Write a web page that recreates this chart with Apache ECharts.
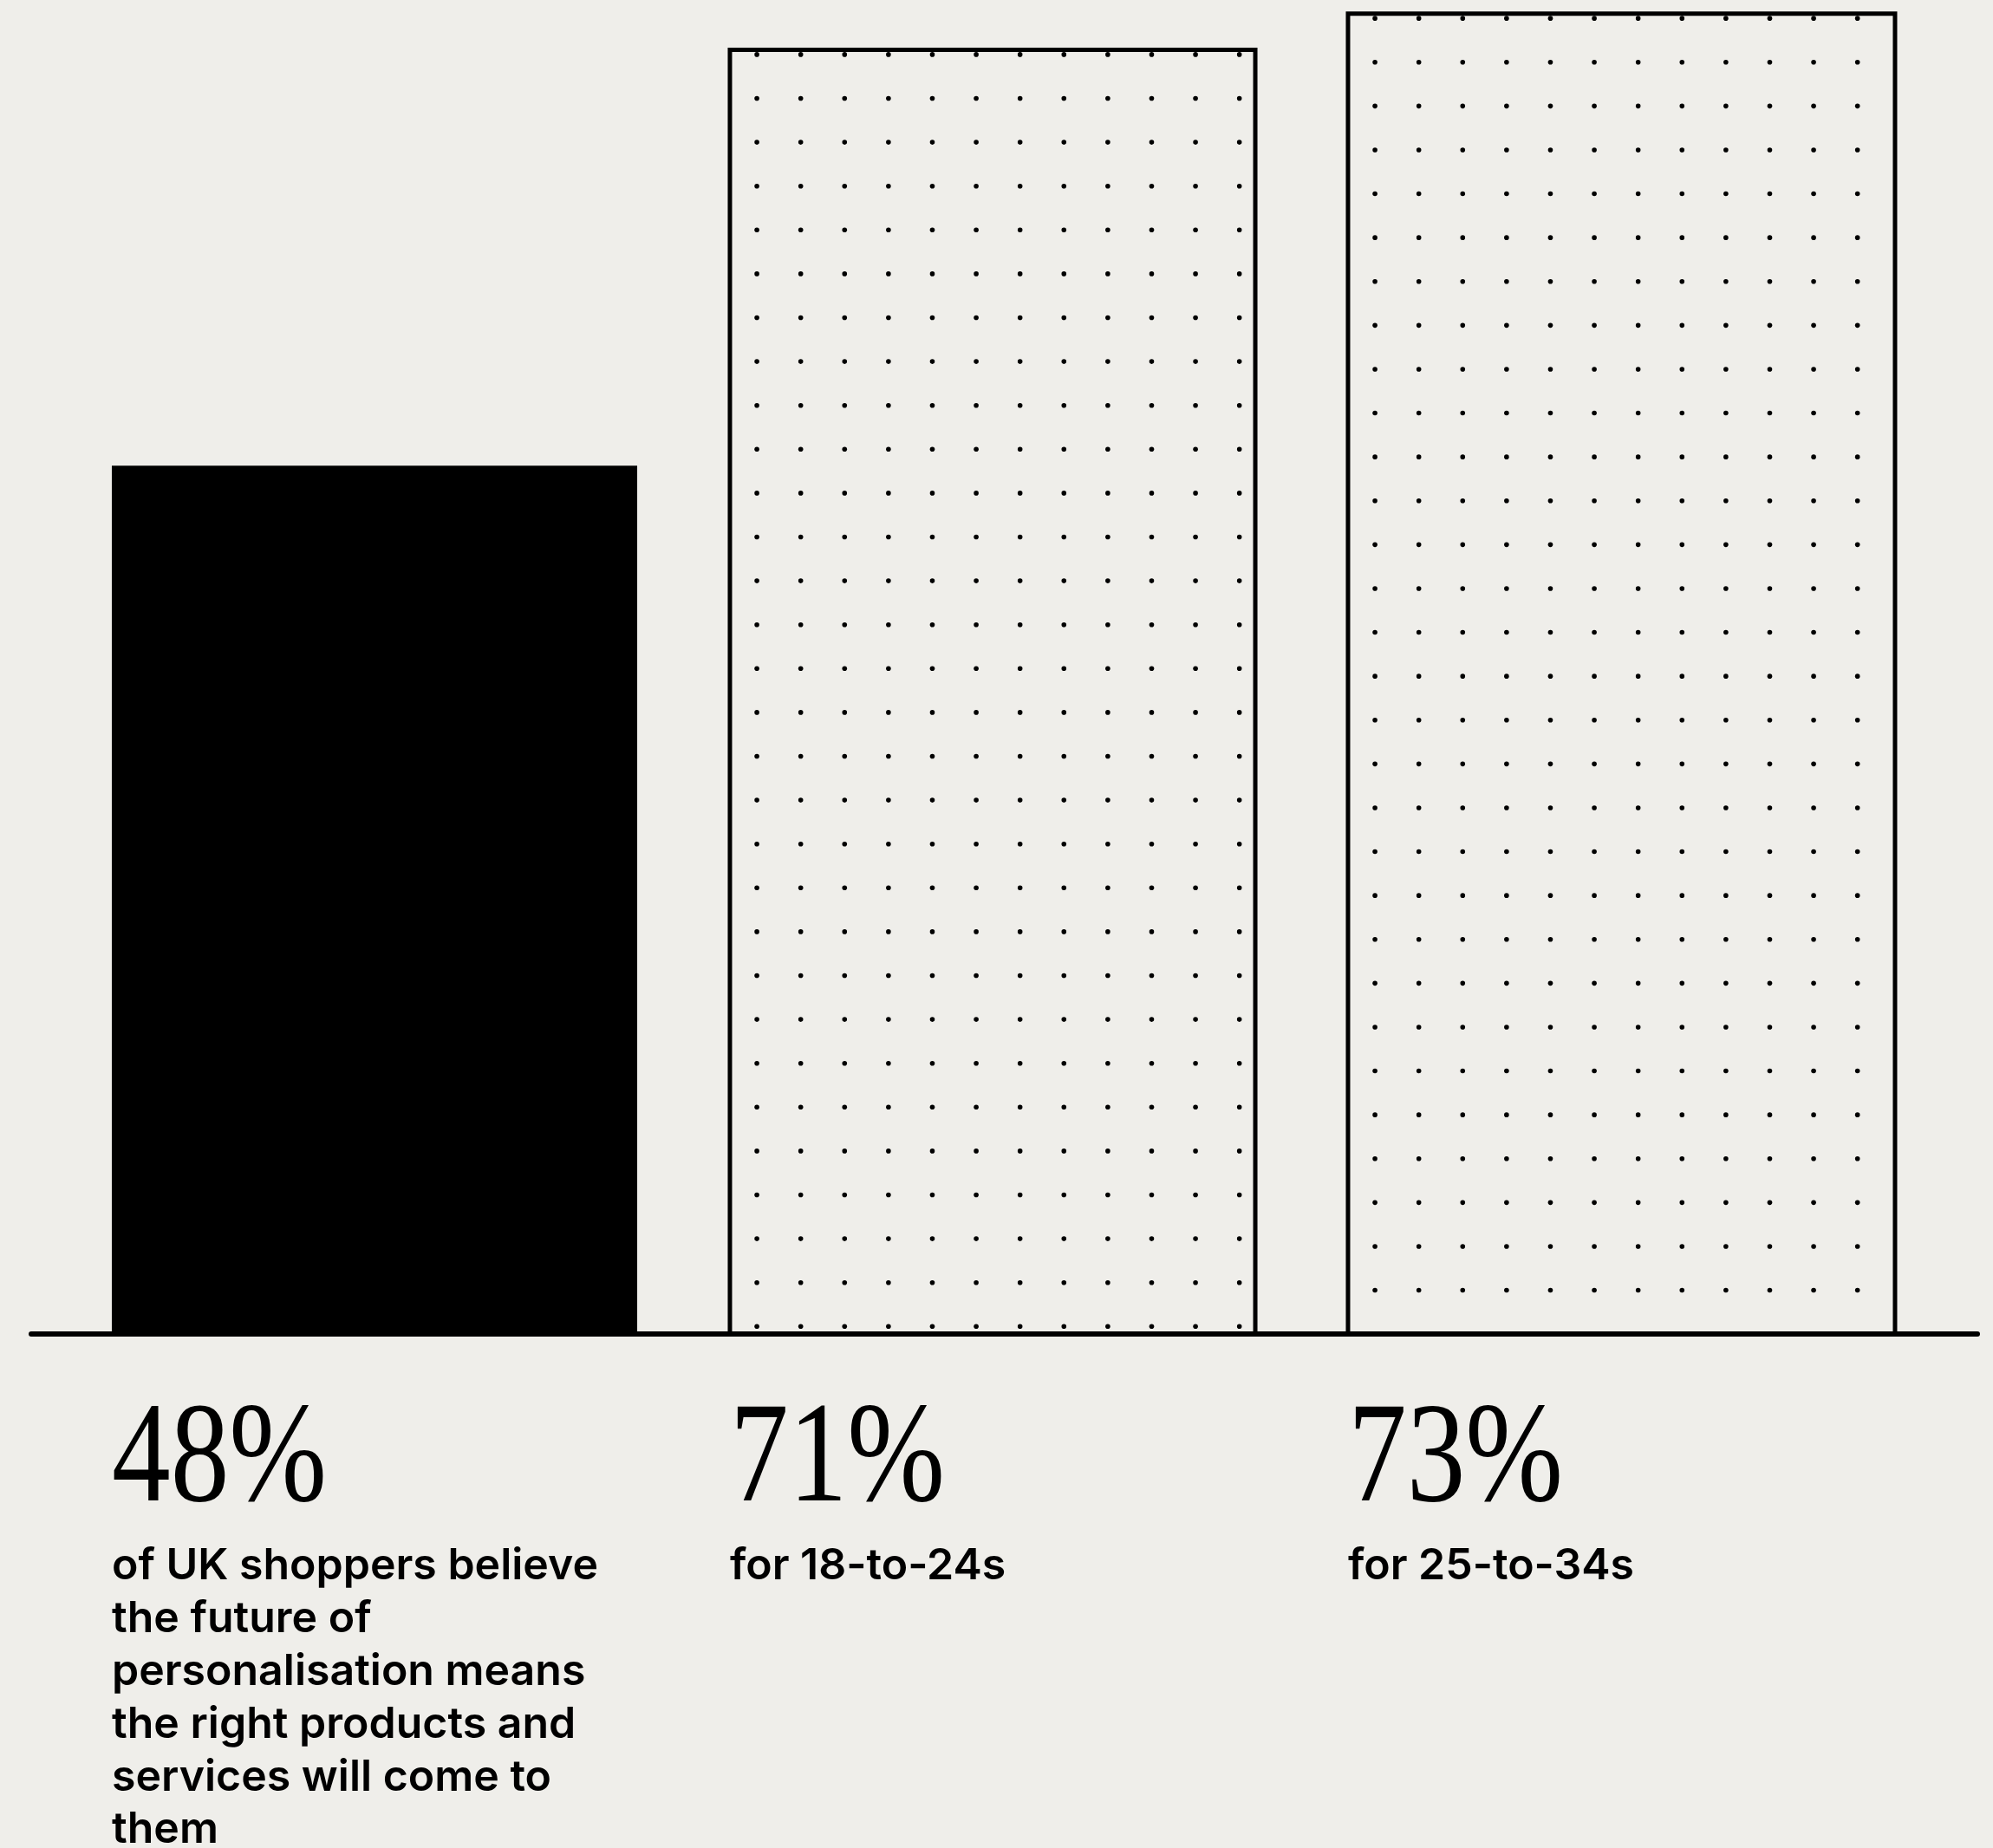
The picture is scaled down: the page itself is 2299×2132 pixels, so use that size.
<!DOCTYPE html>
<html>
<head>
<meta charset="utf-8">
<script src="https://cdn.jsdelivr.net/npm/echarts@6/dist/echarts.min.js"></script>
<style>
  html, body { margin: 0; padding: 0; background: #efeeea; }
  #chart { width: 2299px; height: 2132px; }
</style>
</head>
<body>
<div id="chart"></div>
<script>
// ---- data ----
const categories = ['UK shoppers', '18-to-24s', '25-to-34s'];
const values = [48, 71, 73];
const descriptions = [
  'of UK shoppers believe\nthe future of\npersonalisation means\nthe right products and\nservices will come to\nthem',
  'for 18-to-24s',
  'for 25-to-34s'
];

// ---- style / layout constants ----
const BG = '#efeeea';
const INK = '#000000';
const WIDTH_RATIO = [0.85, 0.85, 0.885];   // bar width as share of band
const FILLED = [true, false, false];
const DOT_STEP = 50.6;
const DOT_OFF_X = 31.1;
const DOT_OFF_Y = 5.5;
const DOT_R = 2.8;
const STROKE_W = 5;
const NUM_FONT = '400 165px "Liberation Serif", "Times New Roman", serif';
const NUM_SCALE_X = 0.82;
const NUM_DY = 149;        // from axis baseline to the middle of the big number
const DESC_FONT = '600 50px Inter, Roboto, "Noto Sans", sans-serif';
const DESC_LH = 60.8;
const DESC_DY = 238;       // from axis baseline to top of description block

function renderItem(params, api) {
  const i = params.dataIndex;
  const v = api.value(1);
  const base = api.coord([i, 0]);
  const topPt = api.coord([i, v]);
  const band = api.size([1, 0])[0];
  const left = base[0] - band * 0.425;
  const w = band * WIDTH_RATIO[i];
  const top = topPt[1];
  const bottom = base[1];
  const children = [];

  if (FILLED[i]) {
    children.push({
      type: 'rect',
      shape: { x: left, y: top, width: w, height: bottom - top },
      style: { fill: INK }
    });
  } else {
    children.push({
      type: 'rect',
      shape: { x: left, y: top, width: w, height: bottom - top },
      style: { fill: 'none', stroke: INK, lineWidth: STROKE_W }
    });
    for (let y = top + DOT_OFF_Y; y <= bottom + 1; y += DOT_STEP) {
      for (let x = left + DOT_OFF_X; x <= left + w - 10; x += DOT_STEP) {
        children.push({
          type: 'circle',
          shape: { cx: x, cy: y, r: DOT_R },
          style: { fill: INK }
        });
      }
    }
  }

  children.push({
    type: 'text',
    x: left,
    y: bottom + NUM_DY,
    scaleX: NUM_SCALE_X,
    style: {
      x: 0, y: 0,
      text: v + '%',
      font: NUM_FONT,
      fill: INK,
      align: 'left',
      verticalAlign: 'middle'
    }
  });
  children.push({
    type: 'text',
    x: left,
    y: bottom + DESC_DY,
    style: {
      x: 0, y: 0,
      text: descriptions[i],
      font: DESC_FONT,
      lineHeight: DESC_LH,
      fill: INK,
      align: 'left',
      verticalAlign: 'top'
    }
  });

  return { type: 'group', children: children };
}

const chart = echarts.init(document.getElementById('chart'), null, { renderer: 'canvas' });
chart.setOption({
  backgroundColor: BG,
  animation: false,
  grid: [
    { left: 75.5, right: 84.5, top: 0, bottom: 593 },
    { left: 36, right: 18, top: 0, bottom: 593 }
  ],
  xAxis: [
    {
      type: 'category', gridIndex: 0, data: categories,
      axisLine: { show: false }, axisTick: { show: false },
      axisLabel: { show: false }, splitLine: { show: false }
    },
    {
      type: 'category', gridIndex: 1, data: [''],
      z: 10,
      axisLine: { show: true, lineStyle: { color: INK, width: 6 } },
      axisTick: { show: false }, axisLabel: { show: false }, splitLine: { show: false }
    }
  ],
  yAxis: [
    { type: 'value', gridIndex: 0, min: 0, max: 73.75, show: false },
    { type: 'value', gridIndex: 1, min: 0, max: 73.75, show: false }
  ],
  series: [{
    type: 'custom',
    xAxisIndex: 0,
    yAxisIndex: 0,
    clip: false,
    renderItem: renderItem,
    data: values.map((v, i) => [i, v])
  }]
});
</script>
</body>
</html>
